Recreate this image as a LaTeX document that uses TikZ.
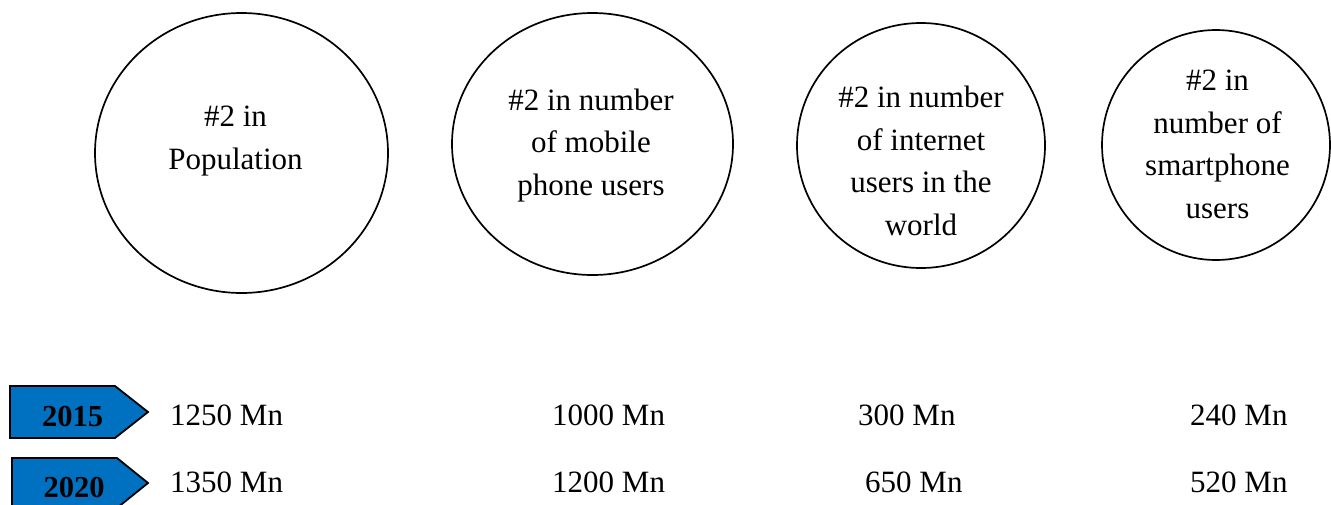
\documentclass[tikz,border=0pt]{standalone}
\usepackage{fontspec}
\setmainfont{Liberation Serif}
\usetikzlibrary{shapes.geometric}
\definecolor{yearblue}{RGB}{0,112,192}
\tikzset{
  bubble/.style={ellipse, draw=black, line width=1.7pt, inner sep=0pt},
  bubbletext/.style={align=center, anchor=base, inner sep=0pt, font=\fontsize{31}{42.5}\selectfont},
  valtext/.style={anchor=base west, inner sep=0pt, font=\fontsize{31}{36}\selectfont},
  yeartext/.style={anchor=base, inner sep=0pt, font=\fontsize{30.5}{36}\selectfont\bfseries},
  yeararrow/.style={draw=black, line width=1.8pt, fill=yearblue, line join=miter},
}
\begin{document}
\begin{tikzpicture}[x=1pt,y=-1pt]
\useasboundingbox (0,0) rectangle (1331,504);
% bubbles
\node[bubble, minimum width=293pt, minimum height=280pt] (c1) at (241.5,153) {};
\node[bubble, minimum width=281pt, minimum height=262pt] (c2) at (592.5,144) {};
\node[bubble, minimum width=248pt, minimum height=245pt] (c3) at (921,145.5) {};
\node[bubble, minimum width=228pt, minimum height=230pt] (c4) at (1216,145) {};
\node[bubbletext] (t1) at (235.5,169) {\#2 in\\Population};
\node[bubbletext] (t2) at (591,195) {\#2 in number\\of mobile\\phone users};
\node[bubbletext] (t3) at (921,235) {\#2 in number\\of internet\\users in the\\world};
\node[bubbletext] (t4) at (1217.5,218) {\#2 in\\number of\\smartphone\\users};
% year arrows
\path[yeararrow] (10,386) -- (115,386) -- (148,412) -- (115,438) -- (10,438) -- cycle;
\path[yeararrow] (12,458) -- (117,458) -- (148,483) -- (117,508) -- (12,508) -- cycle;
\node[yeartext] (y1) at (72.5,426) {2015};
\node[yeartext] (y2) at (74,497) {2020};
% values
\node[valtext] (a1) at (170,425) {1250 Mn};
\node[valtext] (b1) at (552,425) {1000 Mn};
\node[valtext] (c1v) at (858,425) {300 Mn};
\node[valtext] (d1) at (1190,425) {240 Mn};
\node[valtext] (a2) at (170,492) {1350 Mn};
\node[valtext] (b2) at (552,492) {1200 Mn};
\node[valtext] (c2v) at (865,492) {650 Mn};
\node[valtext] (d2) at (1190,492) {520 Mn};
\end{tikzpicture}
\end{document}
